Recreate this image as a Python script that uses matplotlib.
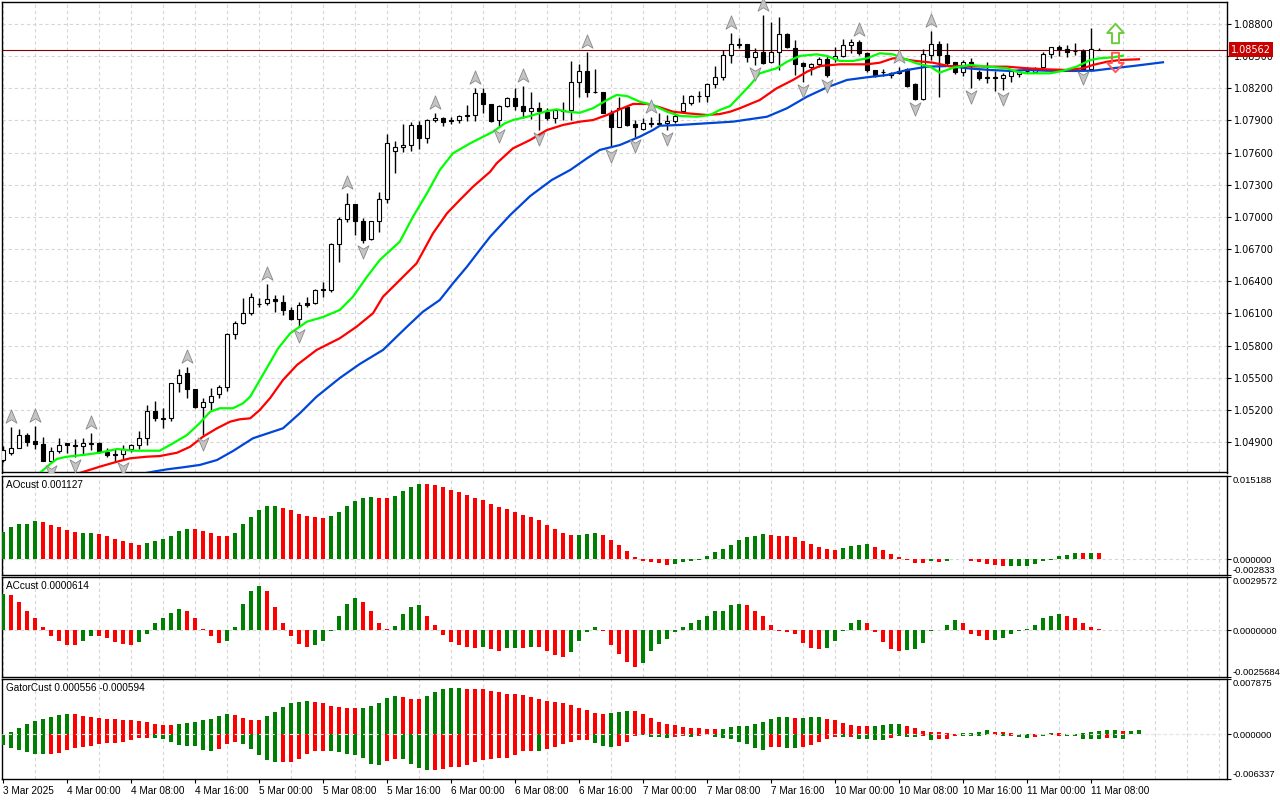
import numpy as np
import matplotlib
matplotlib.use('Agg')
import matplotlib.pyplot as plt
from matplotlib.path import Path
from matplotlib.transforms import offset_copy

# ---- candles, H1 EURUSD, 3 Mar 16:00 .. 11 Mar 09:00 (bar index 0..137)
opens = [
    1.04732, 1.04800, 1.04847, 1.04965, 1.04910, 1.04881, 1.04726, 1.04819, 1.04888, 1.04872,
    1.04863, 1.04883, 1.04888, 1.04804, 1.04788, 1.04788, 1.04835, 1.04869, 1.04935, 1.05192,
    1.05124, 1.05121, 1.05448, 1.05541, 1.05392, 1.05224, 1.05271, 1.05345, 1.05416, 1.05905,
    1.06008, 1.06101, 1.06192, 1.06194, 1.06232, 1.06209, 1.06132, 1.06045, 1.06194, 1.06194,
    1.06328, 1.06318, 1.06748, 1.06978, 1.07118, 1.06965, 1.06791, 1.06965, 1.07165, 1.07618,
    1.07650, 1.07668, 1.07855, 1.07734, 1.07904, 1.07920, 1.07904, 1.07904, 1.07942, 1.07951,
    1.08153, 1.08054, 1.07904, 1.08035, 1.08107, 1.08035, 1.07991, 1.08014, 1.07982, 1.07920,
    1.07993, 1.07998, 1.08262, 1.08364, 1.08168, 1.08168, 1.07972, 1.07836, 1.08028, 1.07864,
    1.07820, 1.07869, 1.07869, 1.07874, 1.07898, 1.07991, 1.08060, 1.08127, 1.08131, 1.08237,
    1.08301, 1.08511, 1.08606, 1.08611, 1.08489, 1.08542, 1.08448, 1.08536, 1.08704, 1.08579,
    1.08439, 1.08396, 1.08427, 1.08471, 1.08471, 1.08502, 1.08604, 1.08635, 1.08527, 1.08371,
    1.08355, 1.08324, 1.08364, 1.08377, 1.08240, 1.08098, 1.08511, 1.08611, 1.08511, 1.08443,
    1.08355, 1.08448, 1.08355, 1.08298, 1.08308, 1.08293, 1.08315, 1.08334, 1.08357, 1.08355,
    1.08402, 1.08520, 1.08583, 1.08564, 1.08548, 1.08548, 1.08380, 1.08562]
highs = [
    1.04863, 1.05040, 1.05021, 1.04984, 1.05052, 1.04944, 1.04856, 1.04935, 1.04891, 1.04925,
    1.04935, 1.04981, 1.04903, 1.04841, 1.04835, 1.04872, 1.04881, 1.05005, 1.05245, 1.05283,
    1.05217, 1.05448, 1.05578, 1.05603, 1.05392, 1.05308, 1.05401, 1.05432, 1.05920, 1.06032,
    1.06241, 1.06288, 1.06241, 1.06374, 1.06272, 1.06272, 1.06163, 1.06204, 1.06256, 1.06325,
    1.06396, 1.06760, 1.07002, 1.07221, 1.07118, 1.06987, 1.06959, 1.07235, 1.07774, 1.07711,
    1.07867, 1.07886, 1.07895, 1.07911, 1.07972, 1.07935, 1.07930, 1.07951, 1.08044, 1.08206,
    1.08200, 1.08054, 1.08044, 1.08122, 1.08200, 1.08222, 1.08168, 1.08075, 1.08014, 1.07998,
    1.08075, 1.08455, 1.08424, 1.08536, 1.08377, 1.08168, 1.07998, 1.08122, 1.08035, 1.07904,
    1.07920, 1.07930, 1.07967, 1.07951, 1.07967, 1.08138, 1.08138, 1.08175, 1.08252, 1.08408,
    1.08558, 1.08713, 1.08667, 1.08611, 1.08573, 1.08884, 1.08822, 1.08868, 1.08719, 1.08651,
    1.08448, 1.08439, 1.08495, 1.08511, 1.08588, 1.08657, 1.08657, 1.08651, 1.08542, 1.08371,
    1.08377, 1.08355, 1.08402, 1.08387, 1.08247, 1.08564, 1.08738, 1.08644, 1.08620, 1.08448,
    1.08464, 1.08480, 1.08371, 1.08448, 1.08364, 1.08340, 1.08364, 1.08377, 1.08402, 1.08402,
    1.08542, 1.08588, 1.08604, 1.08604, 1.08620, 1.08564, 1.08760, 1.08573]
lows = [
    1.04714, 1.04779, 1.04844, 1.04866, 1.04832, 1.04726, 1.04707, 1.04800, 1.04800, 1.04763,
    1.04788, 1.04826, 1.04800, 1.04757, 1.04716, 1.04732, 1.04810, 1.04835, 1.04872, 1.05099,
    1.05028, 1.05099, 1.05364, 1.05308, 1.05215, 1.04965, 1.05199, 1.05308, 1.05379, 1.05861,
    1.06001, 1.06085, 1.06163, 1.06178, 1.06110, 1.06085, 1.06038, 1.05976, 1.06163, 1.06188,
    1.06250, 1.06302, 1.06582, 1.06956, 1.06831, 1.06760, 1.06785, 1.06862, 1.07133, 1.07413,
    1.07609, 1.07618, 1.07637, 1.07693, 1.07883, 1.07851, 1.07864, 1.07874, 1.07895, 1.07898,
    1.07972, 1.07889, 1.07842, 1.08028, 1.07998, 1.07920, 1.07911, 1.07811, 1.07904, 1.07874,
    1.07904, 1.07904, 1.08122, 1.08122, 1.08153, 1.07967, 1.07650, 1.07836, 1.07851, 1.07749,
    1.07811, 1.07842, 1.07858, 1.07811, 1.07874, 1.07967, 1.08044, 1.08075, 1.08075, 1.08200,
    1.08278, 1.08433, 1.08573, 1.08448, 1.08418, 1.08427, 1.08433, 1.08371, 1.08573, 1.08324,
    1.08262, 1.08324, 1.08402, 1.08303, 1.08448, 1.08489, 1.08527, 1.08511, 1.08355, 1.08308,
    1.08315, 1.08293, 1.08334, 1.08215, 1.08091, 1.08091, 1.08464, 1.08122, 1.08418, 1.08334,
    1.08315, 1.08200, 1.08278, 1.08247, 1.08178, 1.08184, 1.08262, 1.08303, 1.08340, 1.08346,
    1.08402, 1.08480, 1.08502, 1.08495, 1.08511, 1.08377, 1.08380, 1.08558]
closes = [
    1.04826, 1.04847, 1.04965, 1.04903, 1.04879, 1.04726, 1.04819, 1.04869, 1.04869, 1.04863,
    1.04888, 1.04888, 1.04810, 1.04779, 1.04779, 1.04832, 1.04869, 1.04935, 1.05192, 1.05127,
    1.05118, 1.05448, 1.05525, 1.05392, 1.05224, 1.05271, 1.05332, 1.05416, 1.05905, 1.06008,
    1.06101, 1.06256, 1.06183, 1.06232, 1.06213, 1.06132, 1.06045, 1.06181, 1.06178, 1.06318,
    1.06318, 1.06748, 1.06978, 1.07118, 1.06965, 1.06785, 1.06959, 1.07165, 1.07687, 1.07650,
    1.07668, 1.07855, 1.07734, 1.07904, 1.07920, 1.07889, 1.07899, 1.07942, 1.07948, 1.08153,
    1.08051, 1.07898, 1.08035, 1.08107, 1.08035, 1.07991, 1.08014, 1.07991, 1.07920, 1.07998,
    1.07998, 1.08262, 1.08364, 1.08168, 1.08164, 1.07972, 1.07836, 1.08014, 1.07858, 1.07842,
    1.07874, 1.07874, 1.07874, 1.07898, 1.07942, 1.08060, 1.08131, 1.08131, 1.08237, 1.08301,
    1.08511, 1.08611, 1.08611, 1.08495, 1.08542, 1.08439, 1.08536, 1.08704, 1.08588, 1.08427,
    1.08408, 1.08427, 1.08471, 1.08324, 1.08502, 1.08604, 1.08635, 1.08527, 1.08371, 1.08315,
    1.08350, 1.08346, 1.08346, 1.08222, 1.08098, 1.08517, 1.08611, 1.08511, 1.08433, 1.08355,
    1.08448, 1.08418, 1.08293, 1.08303, 1.08299, 1.08324, 1.08362, 1.08355, 1.08362, 1.08387,
    1.08520, 1.08583, 1.08564, 1.08542, 1.08544, 1.08380, 1.08564, 1.08562]
last_price = 1.08562

# ---- alligator lines (bar position, price)
jaw_bar = [0, 18.75, 20.5, 22.5, 24.6, 26.75, 28.75, 31.25, 35, 37.1, 39.2, 42.1, 44.6, 47.5,
           50.5, 52.5, 54.6, 56.25, 58, 59.6, 60.9, 63.4, 65.9, 68.6, 70.9, 73, 74.6, 77.1,
           79.6, 81.25, 82.1, 84.6, 88, 91.25, 95.5, 98, 100.5, 103, 105.5, 108, 110.5, 113,
           115.5, 118.4, 120.5, 123.4, 125.9, 128, 130.5, 133.75, 136.25, 138.75, 141.25, 145]
jaw_val = [1.04360, 1.04623, 1.04645, 1.04664, 1.04686, 1.04732, 1.04816, 1.04935, 1.05028,
           1.05168, 1.05323, 1.05497, 1.05628, 1.05759, 1.05976, 1.06116, 1.06225, 1.06381,
           1.06536, 1.06692, 1.06816, 1.07018, 1.07195, 1.07345, 1.07438, 1.07547, 1.07625,
           1.07671, 1.07749, 1.07811, 1.07851, 1.07858, 1.07874, 1.07889, 1.07935, 1.08014,
           1.08122, 1.08209, 1.08278, 1.08303, 1.08324, 1.08371, 1.08402, 1.08408, 1.08387,
           1.08371, 1.08362, 1.08371, 1.08364, 1.08362, 1.08364, 1.08387, 1.08408, 1.08443]
teeth_bar = [0, 9.6, 12.1, 14.25, 15.9, 18, 19.6, 21.75, 23.4, 25, 26.75, 28.4, 29.6, 30.9,
             32.1, 33.4, 35, 36.75, 39.2, 42.1, 44.2, 46.25, 47.5, 49.2, 51.7, 53.75, 55.5,
             57.1, 58.75, 60.9, 61.7, 63.75, 65.9, 68, 70, 72.1, 73.75, 75.5, 77.1, 78.75,
             80.5, 82.1, 83.75, 85.5, 88, 89.6, 90.9, 92.1, 94.6, 96.7, 98.75, 100.5, 102.1,
             104.6, 108, 109.6, 111.25, 112.1, 113.75, 116.25, 118.4, 119.6, 123.4, 125.5,
             128, 130.5, 133, 135, 136.25, 138, 139.6, 142]
teeth_val = [1.04430, 1.04611, 1.04670, 1.04716, 1.04748, 1.04763, 1.04769, 1.04800, 1.04856,
             1.04950, 1.05028, 1.05090, 1.05112, 1.05121, 1.05199, 1.05311, 1.05479, 1.05619,
             1.05759, 1.05868, 1.05976, 1.06101, 1.06256, 1.06381, 1.06567, 1.06847, 1.07034,
             1.07158, 1.07282, 1.07422, 1.07500, 1.07640, 1.07718, 1.07811, 1.07858, 1.07889,
             1.07904, 1.07951, 1.08004, 1.08054, 1.08054, 1.08023, 1.07982, 1.07967, 1.07951,
             1.07960, 1.07982, 1.08014, 1.08091, 1.08200, 1.08278, 1.08355, 1.08408, 1.08424,
             1.08424, 1.08439, 1.08480, 1.08480, 1.08458, 1.08439, 1.08405, 1.08408, 1.08402,
             1.08402, 1.08387, 1.08377, 1.08371, 1.08387, 1.08418, 1.08448, 1.08464, 1.08471]
lips_bar = [0, 4.6, 5.9, 6.75, 8, 10, 12.1, 14.25, 16.25, 19.6, 21.25, 23, 24.6, 25.9, 27.1,
            28.75, 30, 30.9, 34.4, 35.9, 38, 40, 42.1, 43.75, 45.5, 47.1, 49.6, 51.25, 53,
            54.6, 56.25, 58.4, 61.25, 62.75, 63.75, 65.9, 68, 69.2, 70.5, 72.1, 73.75, 75.5,
            76.7, 78, 79.6, 81.25, 83, 84.6, 86.7, 88.4, 89.6, 90.9, 93.4, 94.6, 96.7, 98,
            99.6, 101.7, 103, 104.6, 106.25, 108, 109.6, 111.25, 112.5, 114.2, 115.9, 117.1,
            118.75, 120.9, 123, 125.5, 126.7, 128, 130.9, 132.5, 134.2, 135.9, 137.1, 138.75, 140]
lips_val = [1.04470, 1.04611, 1.04695, 1.04742, 1.04763, 1.04779, 1.04800, 1.04835, 1.04819,
            1.04819, 1.04888, 1.04965, 1.05077, 1.05183, 1.05215, 1.05215, 1.05261, 1.05323,
            1.05774, 1.05914, 1.06023, 1.06066, 1.06132, 1.06256, 1.06442, 1.06598, 1.06769,
            1.07002, 1.07221, 1.07438, 1.07594, 1.07687, 1.07795, 1.07874, 1.07904, 1.07942,
            1.07988, 1.08004, 1.07982, 1.07972, 1.08014, 1.08091, 1.08138, 1.08128, 1.08075,
            1.08044, 1.07982, 1.07942, 1.07935, 1.07951, 1.07998, 1.08035, 1.08231, 1.08340,
            1.08387, 1.08448, 1.08502, 1.08517, 1.08502, 1.08455, 1.08455, 1.08480, 1.08527,
            1.08517, 1.08480, 1.08433, 1.08402, 1.08346, 1.08392, 1.08418, 1.08402, 1.08387,
            1.08355, 1.08340, 1.08340, 1.08364, 1.08402, 1.08464, 1.08480, 1.08489, 1.08504]

# ---- fractals and signal arrows
frac_up = [1, 4, 11, 23, 33, 43, 54, 59, 65, 73, 81, 91, 95, 107, 112, 116]
frac_dn = [6, 9, 15, 25, 37, 45, 62, 67, 76, 79, 83, 94, 100, 103, 114, 121, 125, 135]
signal_bar = [139]
signal_buy = [1.08713]
signal_sell = [1.08446]

# ---- Awesome Oscillator
ao = [
    0.00496, 0.00587, 0.00635, 0.00648, 0.00690, 0.00672, 0.00617, 0.00587, 0.00526, 0.00490,
    0.00472, 0.00472, 0.00454, 0.00417, 0.00363, 0.00327, 0.00290, 0.00254, 0.00290, 0.00327,
    0.00363, 0.00417, 0.00508, 0.00545, 0.00545, 0.00508, 0.00472, 0.00417, 0.00417, 0.00472,
    0.00635, 0.00768, 0.00889, 0.00962, 0.00962, 0.00938, 0.00889, 0.00829, 0.00787, 0.00768,
    0.00750, 0.00787, 0.00859, 0.00968, 0.01059, 0.01113, 0.01131, 0.01113, 0.01113, 0.01149,
    0.01240, 0.01307, 0.01361, 0.01361, 0.01343, 0.01307, 0.01252, 0.01216, 0.01162, 0.01107,
    0.01071, 0.00998, 0.00944, 0.00908, 0.00853, 0.00799, 0.00762, 0.00708, 0.00617, 0.00545,
    0.00472, 0.00436, 0.00436, 0.00454, 0.00472, 0.00436, 0.00345, 0.00254, 0.00145, 0.00036,
    -0.00036, -0.00054, -0.00067, -0.00109, -0.00091, -0.00048, -0.00030, -0.00012, 0.00054, 0.00127,
    0.00182, 0.00254, 0.00345, 0.00399, 0.00417, 0.00454, 0.00436, 0.00417, 0.00417, 0.00399,
    0.00327, 0.00272, 0.00218, 0.00182, 0.00163, 0.00200, 0.00236, 0.00254, 0.00272, 0.00218,
    0.00163, 0.00091, 0.00036, -0.00009, -0.00067, -0.00067, -0.00030, -0.00042, -0.00030, 0.00012,
    0.00012, -0.00024, -0.00048, -0.00091, -0.00103, -0.00121, -0.00119, -0.00118, -0.00116, -0.00085,
    -0.00024, -0.00012, 0.00054, 0.00073, 0.00109, 0.00107, 0.00112, 0.001127]
ao_col = ("GGGGGRRRRRGGRRRRRRGGGGGGRRRRRGGGGGGRRRRRRGGGGGGRRGGGG" + "R" * 19 + "GGG" + "R" * 9
          + "G" * 12 + "R" * 9 + "GGGG" + "R" * 7 + "GRGGGRRRRR" + "G" * 9 + "RGR")

# ---- Accelerator Oscillator
ac = [
    0.00204, 0.00195, 0.00160, 0.00111, 0.00070, 0.00022, -0.00032, -0.00059, -0.00078, -0.00078,
    -0.00059, -0.00032, -0.00033, -0.00043, -0.00065, -0.00076, -0.00083, -0.00065, -0.00021, 0.00039,
    0.00067, 0.00095, 0.00117, 0.00111, 0.00067, 0.00011, -0.00032, -0.00071, -0.00059, 0.00022,
    0.00145, 0.00222, 0.00250, 0.00222, 0.00133, 0.00044, -0.00032, -0.00076, -0.00093, -0.00082,
    -0.00061, -0.00004, 0.00078, 0.00150, 0.00178, 0.00156, 0.00111, 0.00044, 0.00011, 0.00024,
    0.00089, 0.00128, 0.00139, 0.00083, 0.00033, -0.00026, -0.00065, -0.00078, -0.00089, -0.00098,
    -0.00093, -0.00104, -0.00115, -0.00098, -0.00097, -0.00099, -0.00089, -0.00093, -0.00115, -0.00137,
    -0.00148, -0.00121, -0.00059, -0.00007, 0.00017, -0.00004, -0.00082, -0.00132, -0.00176, -0.00204,
    -0.00182, -0.00115, -0.00076, -0.00048, -0.00009, 0.00022, 0.00044, 0.00061, 0.00083, 0.00106,
    0.00111, 0.00139, 0.00150, 0.00139, 0.00106, 0.00083, 0.00033, -0.00002, -0.00009, -0.00020,
    -0.00071, -0.00098, -0.00104, -0.00098, -0.00059, -0.00004, 0.00039, 0.00056, 0.00039, -0.00009,
    -0.00065, -0.00104, -0.00115, -0.00109, -0.00104, -0.00071, -0.00004, 0.00001, 0.00028, 0.00056,
    0.00039, -0.00020, -0.00032, -0.00054, -0.00053, -0.00043, -0.00020, -0.00004, 0.00006, 0.00033,
    0.00067, 0.00083, 0.00089, 0.00083, 0.00072, 0.00039, 0.00022, 0.0000614]
ac_col = ("G" + "R" * 9 + "GG" + "R" * 5 + "G" * 6 + "R" * 5 + "G" * 5 + "R" * 6 + "G" * 6
          + "R" * 4 + "G" * 4 + "R" * 7 + "GRRGGRGRRRR" + "G" * 4 + "R" * 5 + "G" * 13
          + "R" * 10 + "G" * 5 + "R" * 5 + "G" * 7 + "R" * 4 + "G" * 9 + "R" * 5)

# ---- Gator oscillator
gator_up = [
    0.00010, 0.00028, 0.00090, 0.00146, 0.00188, 0.00217, 0.00245, 0.00273, 0.00287, 0.00286,
    0.00259, 0.00245, 0.00231, 0.00217, 0.00216, 0.00203, 0.00202, 0.00188, 0.00174, 0.00146,
    0.00132, 0.00131, 0.00146, 0.00160, 0.00174, 0.00203, 0.00217, 0.00259, 0.00287, 0.00273,
    0.00231, 0.00203, 0.00202, 0.00259, 0.00316, 0.00386, 0.00443, 0.00457, 0.00471, 0.00457,
    0.00443, 0.00400, 0.00386, 0.00372, 0.00371, 0.00373, 0.00400, 0.00443, 0.00513, 0.00545,
    0.00532, 0.00504, 0.00503, 0.00547, 0.00603, 0.00645, 0.00659, 0.00660, 0.00645, 0.00644,
    0.00643, 0.00617, 0.00603, 0.00575, 0.00574, 0.00561, 0.00532, 0.00504, 0.00476, 0.00462,
    0.00448, 0.00420, 0.00377, 0.00349, 0.00307, 0.00292, 0.00307, 0.00321, 0.00335, 0.00334,
    0.00292, 0.00236, 0.00179, 0.00151, 0.00137, 0.00109, 0.00095, 0.00094, 0.00081, 0.00080,
    0.00081, 0.00109, 0.00123, 0.00124, 0.00151, 0.00179, 0.00222, 0.00250, 0.00251, 0.00236,
    0.00237, 0.00250, 0.00251, 0.00222, 0.00208, 0.00165, 0.00137, 0.00123, 0.00122, 0.00123,
    0.00137, 0.00151, 0.00152, 0.00123, 0.00094, 0.00052, 0.00038, 0.00037, 0.00024, 0.00010,
    0.00024, 0.00025, 0.00038, 0.00066, 0.00038, 0.00037, 0.00024, 0.00010, 0.00011, 0.00010,
    0.00011, 0.00024, 0.00023, 0.00010, 0.00011, 0.00024, 0.00038, 0.00052, 0.00066, 0.00066,
    0.00052, 0.000556, 0.00066]
gator_up_col = ("G" * 9 + "R" * 13 + "G" * 7 + "R" * 4 + "G" * 6 + "R" * 6 + "G" * 5 + "R" * 3
                + "G" * 5 + "R" * 18 + "G" * 3 + "R" * 11 + "G" * 9 + "R" + "G" * 3 + "R" * 6
                + "G" * 4 + "R" * 7 + "G" * 4 + "R" * 3 + "GGRGGRR" + "G" * 6 + "RGG")
gator_dn = [
    -0.00151, -0.00188, -0.00222, -0.00250, -0.00278, -0.00279, -0.00278, -0.00264, -0.00222, -0.00193,
    -0.00174, -0.00165, -0.00137, -0.00122, -0.00121, -0.00108, -0.00080, -0.00052, -0.00051, -0.00052,
    -0.00066, -0.00108, -0.00151, -0.00165, -0.00166, -0.00222, -0.00236, -0.00207, -0.00137, -0.00108,
    -0.00137, -0.00207, -0.00292, -0.00363, -0.00391, -0.00390, -0.00390, -0.00349, -0.00278, -0.00236,
    -0.00235, -0.00236, -0.00250, -0.00278, -0.00292, -0.00335, -0.00419, -0.00433, -0.00377, -0.00350,
    -0.00352, -0.00419, -0.00476, -0.00504, -0.00503, -0.00490, -0.00462, -0.00461, -0.00433, -0.00391,
    -0.00363, -0.00349, -0.00335, -0.00334, -0.00292, -0.00236, -0.00235, -0.00236, -0.00207, -0.00179,
    -0.00137, -0.00109, -0.00080, -0.00079, -0.00123, -0.00165, -0.00179, -0.00165, -0.00109, -0.00024,
    -0.00010, -0.00038, -0.00039, -0.00052, -0.00038, -0.00019, -0.00038, -0.00019, -0.00005, -0.00038,
    -0.00052, -0.00066, -0.00109, -0.00137, -0.00193, -0.00222, -0.00179, -0.00178, -0.00193, -0.00194,
    -0.00179, -0.00151, -0.00109, -0.00066, -0.00038, -0.00039, -0.00038, -0.00066, -0.00067, -0.00080,
    -0.00081, -0.00052, -0.00019, -0.00038, -0.00039, -0.00019, -0.00080, -0.00066, -0.00067, -0.00019,
    -0.00020, -0.00021, -0.00022, -0.00010, -0.00010, -0.00019, -0.00019, -0.00038, -0.00052, -0.00038,
    -0.00019, -0.00010, -0.00019, -0.00024, -0.00024, -0.00066, -0.00067, -0.00066, -0.00052, -0.00053,
    -0.000594]
gator_dn_col = ("G" * 6 + "R" * 13 + "G" * 8 + "R" * 3 + "G" * 5 + "R" * 6 + "G" * 7 + "RR"
                + "G" * 4 + "R" * 13 + "G" + "R" * 6 + "GGGRRRGGGGRRGRR" + "G" * 7 + "RRGG"
                + "R" * 5 + "GR" + "G" * 4 + "RGGGRGRRR" + "G" * 4 + "RGRGGRGRR" + "G" * 5 + "RGG")

price_ticks = [1.04900, 1.05200, 1.05500, 1.05800, 1.06100, 1.06400, 1.06700,
               1.07000, 1.07300, 1.07600, 1.07900, 1.08200, 1.08500, 1.08800]
ao_range = (-0.002833, 0.015188)
ac_range = (-0.0025684, 0.0029572)
gator_range = (-0.006337, 0.007875)
time_labels = ['3 Mar 2025', '4 Mar 00:00', '4 Mar 08:00', '4 Mar 16:00', '5 Mar 00:00',
               '5 Mar 08:00', '5 Mar 16:00', '6 Mar 00:00', '6 Mar 08:00', '6 Mar 16:00',
               '7 Mar 00:00', '7 Mar 08:00', '7 Mar 16:00', '10 Mar 00:00', '10 Mar 08:00',
               '10 Mar 16:00', '11 Mar 00:00', '11 Mar 08:00']

GREEN = '#008000'
RED = '#ff0000'
GRID = '#d6d6d6'
DASH = (0, (3, 2.5))
NARROW = ['Liberation Sans', 'DejaVu Sans']
colour = {'G': GREEN, 'R': RED}

plt.rcParams['font.family'] = 'DejaVu Sans'
fig = plt.figure(figsize=(12.8, 8), dpi=100)


def panel(top, bottom):
    ax = fig.add_axes([2 / 1280, 1 - bottom / 800, 1225 / 1280, (bottom - top) / 800])
    ax.set_xlim(-0.125, 153)
    for s in ax.spines.values():
        s.set_linewidth(1.0)
        s.set_color('black')
    ax.yaxis.tick_right()
    ax.tick_params(axis='y', direction='out', length=3, width=0.8, labelsize=7, pad=2)
    ax.set_xticks([])
    ax.set_xticks(range(0, 153, 4), minor=True)
    ax.tick_params(axis='x', which='both', length=0, labelbottom=False)
    ax.grid(which='minor', axis='x', color=GRID, linestyle=DASH, linewidth=0.8)
    ax.set_axisbelow(True)
    return ax


def osc_axis(ax, rng, fmt, name):
    ax.set_ylim(*rng)
    ax.set_yticks([rng[0], 0, rng[1]])
    labs = ax.set_yticklabels([fmt % rng[0], fmt % 0, fmt % rng[1]],
                              family=NARROW, fontsize=6.8)
    labs[0].set_va('bottom')
    labs[-1].set_va('top')
    ax.tick_params(axis='y', pad=1)
    ax.axhline(0, color=GRID, linestyle=DASH, linewidth=0.8, zorder=1)
    ax.annotate(name, xy=(0, 1), xycoords='axes fraction', xytext=(4, -9),
                textcoords='offset pixels', va='center', ha='left', fontsize=7.2,
                family=NARROW)


# ---------------- price panel
ax = panel(1.5, 472.5)
ax.set_ylim(1.046155, 1.0901)
ax.set_yticks(price_ticks)
ax.set_yticklabels(['%.5f' % t for t in price_ticks])
ax.grid(which='major', axis='y', color=GRID, linestyle=DASH, linewidth=0.8)

o = np.array(opens)
h = np.array(highs)
l = np.array(lows)
c = np.array(closes)
idx = np.arange(len(o))
bull = c >= o
ax.axhline(last_price, color='#8a0000', linewidth=0.8, zorder=1.5)
ax.vlines(idx, l, h, color='black', linewidth=1, zorder=2)
ax.bar(idx, np.abs(c - o), bottom=np.minimum(o, c), width=0.55,
       color=np.where(bull, 'white', 'black'), edgecolor='black', linewidth=0.8, zorder=3)

ax.plot(jaw_bar, jaw_val, color='#0046d8', linewidth=1.6, zorder=4)
ax.plot(teeth_bar, teeth_val, color='#ff0000', linewidth=1.6, zorder=4)
ax.plot(lips_bar, lips_val, color='#00ff00', linewidth=1.6, zorder=4)

MOVE, LINE, CLOSE = Path.MOVETO, Path.LINETO, Path.CLOSEPOLY
frac_shape = [(0, 1), (0.72, -0.75), (0, -0.3), (-0.72, -0.75), (0, 1)]
frac_codes = [MOVE, LINE, LINE, LINE, CLOSE]
up_mark = Path(frac_shape, frac_codes)
dn_mark = Path([(x, -y) for x, y in frac_shape], frac_codes)
ax.plot(frac_up, h[frac_up], ls='none', marker=up_mark, ms=11, mfc='#c4c4c4', mec='#8a8a8a',
        mew=0.6, zorder=5, clip_on=False,
        transform=offset_copy(ax.transData, fig=fig, x=0, y=10, units='dots'))
ax.plot(frac_dn, l[frac_dn], ls='none', marker=dn_mark, ms=11, mfc='#c4c4c4', mec='#8a8a8a',
        mew=0.6, zorder=5,
        transform=offset_copy(ax.transData, fig=fig, x=0, y=-8, units='dots'))

arrow_shape = [(0, 1), (0.85, 0.05), (0.36, 0.05), (0.36, -1), (-0.36, -1), (-0.36, 0.05),
               (-0.85, 0.05), (0, 1)]
arrow_codes = [MOVE] + [LINE] * 6 + [CLOSE]
buy_mark = Path(arrow_shape, arrow_codes)
sell_mark = Path([(x, -y) for x, y in arrow_shape], arrow_codes)
ax.plot(signal_bar, signal_buy, ls='none', marker=buy_mark, ms=14, mfc='none', mec='#6ccc3c',
        mew=1.4, zorder=6)
ax.plot(signal_bar, signal_sell, ls='none', marker=sell_mark, ms=14, mfc='none', mec='#ff5a5a',
        mew=1.4, zorder=6)

ax.annotate('%.5f' % last_price, xy=(1, last_price), xycoords=('axes fraction', 'data'),
            xytext=(4, 0), textcoords='offset pixels', va='center', ha='left', fontsize=7,
            color='white', annotation_clip=False,
            bbox=dict(boxstyle='square,pad=0.25', fc='#c80000', ec='none'))

# ---------------- AO
ax_ao = panel(475.7, 575)
ax_ao.bar(np.arange(len(ao)), ao, width=0.5, color=[colour[ch] for ch in ao_col], zorder=3)
osc_axis(ax_ao, ao_range, '%.6f', 'AOcust %.6f' % ao[-1])

# ---------------- AC
ax_ac = panel(577.3, 676.7)
ax_ac.bar(np.arange(len(ac)), ac, width=0.5, color=[colour[ch] for ch in ac_col], zorder=3)
osc_axis(ax_ac, ac_range, '%.7f', 'ACcust %.7f' % ac[-1])

# ---------------- Gator
ax_g = panel(678.7, 779.3)
ax_g.bar(np.arange(len(gator_up)), gator_up, width=0.5,
         color=[colour[ch] for ch in gator_up_col], zorder=3)
ax_g.bar(np.arange(len(gator_dn)), gator_dn, width=0.5,
         color=[colour[ch] for ch in gator_dn_col], zorder=3)
osc_axis(ax_g, gator_range, '%.6f', 'GatorCust %.6f %.6f' % (gator_up[141], gator_dn[-1]))
ax_g.axhline(0, color='#e6e6e6', linestyle=DASH, linewidth=0.8, zorder=4)

ax_g.set_xticks([8 * i for i in range(len(time_labels))])
ax_g.set_xticklabels(time_labels, ha='left', fontsize=7.2, family=NARROW)
ax_g.tick_params(axis='x', which='major', length=3, width=0.8, direction='out',
                 labelbottom=True, pad=2)

fig.savefig('out.png', dpi=100, facecolor='white')
